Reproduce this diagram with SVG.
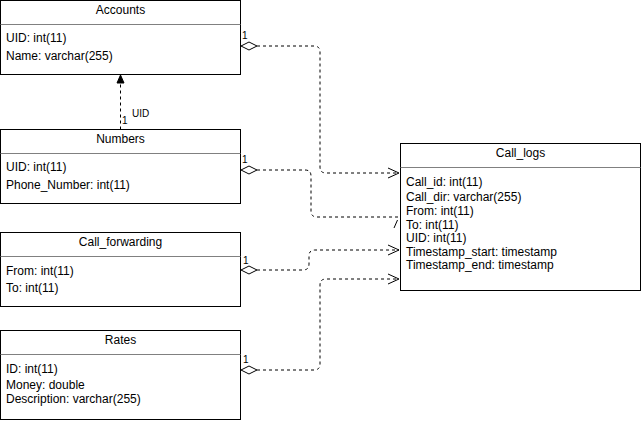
<svg xmlns="http://www.w3.org/2000/svg" width="642" height="421" viewBox="0 0 642 421">
<defs>
<style>
.box{fill:#fff;stroke:#000;stroke-width:1}
.sep{stroke:#808080;stroke-width:1}
.title{font-family:"Liberation Sans",Arial,sans-serif;font-size:12px;text-anchor:middle;fill:#000}
.field{font-family:"Liberation Sans",Arial,sans-serif;font-size:12px;fill:#000}
.lbl{font-family:"Liberation Sans",Arial,sans-serif;font-size:10px;fill:#000}
.edge{fill:none;stroke:#000;stroke-width:1;stroke-dasharray:3 3}
.dia{fill:#fff;stroke:#000;stroke-width:1}
.arr{fill:none;stroke:#000;stroke-width:1}
</style>
</defs>
<rect width="642" height="421" fill="#fff"/>

<g id="connectors">
  <!-- Numbers -> Accounts -->
  <path class="edge" d="M120.5,129.5 V83"/>
  <path d="M120.5,75 L124,83 L117,83 Z" fill="#000" stroke="#000" stroke-width="1"/>
  <text class="lbl" x="132" y="117" font-size="11">UID</text>
  <text class="lbl" x="122" y="124">1</text>

  <!-- Accounts -> Call_logs -->
  <path class="edge" d="M257,46 H314 Q320,46 320,52 V167 Q320,173 326,173 H399"/>
  <path class="dia" d="M241,46 L249,42 L257,46 L249,50 Z"/>
  <path class="arr" d="M388,168 L399,173 L388,178"/>
  <text class="lbl" x="242" y="39">1</text>

  <!-- Numbers -> Call_logs -->
  <path class="edge" d="M257,170 H305 Q311,170 311,176 V211 Q311,217 317,217 H398"/>
  <path class="dia" d="M241,170 L249,166 L257,170 L249,174 Z"/>
  <path class="arr" d="M394,228 L397.5,220"/>
  <text class="lbl" x="242" y="163">1</text>

  <!-- Call_forwarding -> Call_logs -->
  <path class="edge" d="M257,270 H303 Q309,270 309,264 V256 Q309,250 315,250 H399"/>
  <path class="dia" d="M241,270 L249,266 L257,270 L249,274 Z"/>
  <path class="arr" d="M388,245 L399,250 L388,255"/>
  <text class="lbl" x="243" y="264">1</text>

  <!-- Rates -> Call_logs -->
  <path class="edge" d="M257,370 H314 Q320,370 320,364 V285 Q320,279 326,279 H399"/>
  <path class="dia" d="M241,370 L249,366 L257,370 L249,374 Z"/>
  <path class="arr" d="M388,274 L399,279 L388,284"/>
  <text class="lbl" x="243" y="363">1</text>
</g>

<g id="accounts">
  <rect class="box" x="0.5" y="0.5" width="240" height="74"/>
  <line class="sep" x1="0.5" y1="24.5" x2="240.5" y2="24.5"/>
  <text class="title" x="120.5" y="14">Accounts</text>
  <text class="field" x="6" y="41.5">UID: int(11)</text>
  <text class="field" x="6" y="59.5">Name: varchar(255)</text>
</g>

<g id="numbers">
  <rect class="box" x="0.5" y="129.5" width="240" height="74"/>
  <line class="sep" x1="0.5" y1="153.5" x2="240.5" y2="153.5"/>
  <text class="title" x="120.5" y="143">Numbers</text>
  <text class="field" x="6" y="171">UID: int(11)</text>
  <text class="field" x="6" y="189">Phone_Number: int(11)</text>
</g>

<g id="call_forwarding">
  <rect class="box" x="0.5" y="232.5" width="240" height="74"/>
  <line class="sep" x1="0.5" y1="256.5" x2="240.5" y2="256.5"/>
  <text class="title" x="120.5" y="246">Call_forwarding</text>
  <text class="field" x="6" y="275">From: int(11)</text>
  <text class="field" x="6" y="292">To: int(11)</text>
</g>

<g id="rates">
  <rect class="box" x="0.5" y="330.5" width="240" height="89"/>
  <line class="sep" x1="0.5" y1="354.5" x2="240.5" y2="354.5"/>
  <text class="title" x="120.5" y="344">Rates</text>
  <text class="field" x="6" y="373">ID: int(11)</text>
  <text class="field" x="6" y="389">Money: double</text>
  <text class="field" x="6" y="402.5">Description: varchar(255)</text>
</g>

<g id="call_logs">
  <rect class="box" x="400.5" y="143.5" width="240" height="147"/>
  <line class="sep" x1="400.5" y1="167.5" x2="640.5" y2="167.5"/>
  <text class="title" x="520.5" y="157">Call_logs</text>
  <text class="field" x="406" y="186">Call_id: int(11)</text>
  <text class="field" x="406" y="201">Call_dir: varchar(255)</text>
  <text class="field" x="406" y="215">From: int(11)</text>
  <text class="field" x="406" y="228.5">To: int(11)</text>
  <text class="field" x="406" y="242">UID: int(11)</text>
  <text class="field" x="406" y="255.5">Timestamp_start: timestamp</text>
  <text class="field" x="406" y="269">Timestamp_end: timestamp</text>
</g>
</svg>
